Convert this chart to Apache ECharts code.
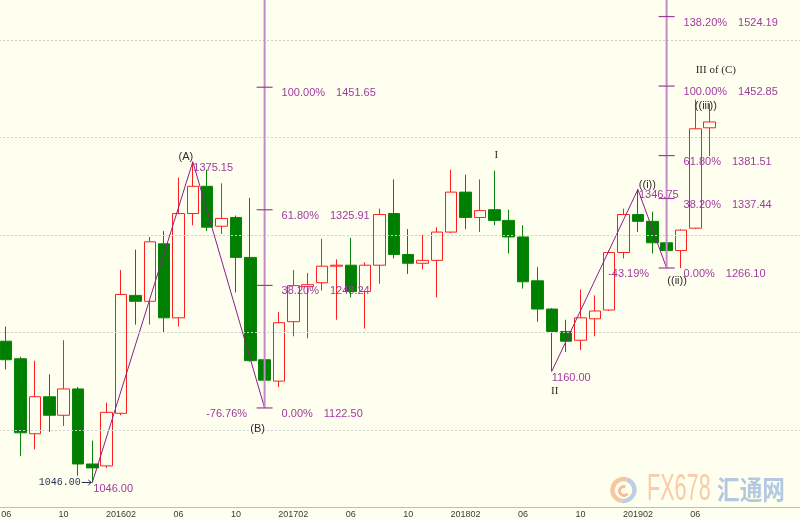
<!DOCTYPE html>
<html><head><meta charset="utf-8">
<script src="https://cdn.jsdelivr.net/npm/echarts@6/dist/echarts.min.js"></script>
<style>html,body{margin:0;padding:0;background:#FFFFEF}#c{width:800px;height:520px}</style>
</head><body><div id="c"></div>
<script>
// ---------- data ----------
const months = ['201506','201507','201508','201509','201510','201511','201512',
  '201601','201602','201603','201604','201605','201606','201607','201608','201609','201610','201611','201612',
  '201701','201702','201703','201704','201705','201706','201707','201708','201709','201710','201711','201712',
  '201801','201802','201803','201804','201805','201806','201807','201808','201809','201810','201811','201812',
  '201901','201902','201903','201904','201905','201906','201907','201908','201909','201910','201911','201912',
  '202001'];
const opens  = [1191,1173,1096,1134,1115,1142,1065,1063,1117,1238,1232,1291,1215,1322,1350,1309,1318,1277,1172,
  1150,1211,1247,1251,1268,1269,1242,1269,1322,1280,1271,1274,1303,1344,1318,1326,1315,1298,1253,1224,1201,1192,1214,1223,
  1282,1321,1314,1292,1284,1307,1410];
const closes = [1172,1097,1134,1115,1142,1065,1061,1118,1239,1232,1293,1215,1322,1350,1308,1317,1277,1171,1151,
  1210,1248,1249,1268,1269,1242,1269,1321,1280,1271,1274,1303,1344,1318,1325,1315,1298,1252,1224,1201,1191,1215,1222,1282,
  1321,1314,1292,1284,1305,1409,1416];
const lows   = [1162,1073,1080,1098,1104,1053,1046,1061,1115,1208,1208,1200,1206,1310,1304,1301,1241,1170,1122.5,
  1144,1196,1194,1243,1213,1236,1204,1250,1276,1260,1265,1236,1302,1306,1303,1310,1281,1245,1211,1160,1180,1182,1196,1222,
  1276,1303,1281,1266.1,1266,1306,1381];
const highs  = [1206,1175,1171,1157,1192,1144,1089,1128,1264,1285,1298,1304,1359,1375.15,1367,1353,1320,1338,1173,
  1221,1264,1261,1296,1275,1297,1272,1327,1357,1306,1300,1308,1367,1362,1357,1366,1326,1310,1267,1225,1213,1244,1238,1284,
  1327,1346.75,1324,1293,1306,1439,1435];
const gridLevels = [1100,1200,1300,1400,1500];

// zigzag waves
const zigAMonths = ['201512','201607','201612'];
const zigAPrices = [1046.00,1375.15,1122.50];
const zigBMonths = ['201808','201902','201904'];
const zigBPrices = [1160.00,1346.75,1266.10];

// fibonacci projections
const fibLeftPct    = ['100.00%','61.80%','38.20%','0.00%'];
const fibLeftPrice  = [1451.65,1325.91,1248.24,1122.50];
const fibRightPct   = ['138.20%','100.00%','61.80%','38.20%','0.00%'];
const fibRightPrice = [1524.19,1452.85,1381.51,1337.44,1266.10];

// wave labels
const waveText   = ['(A)','(B)','I','II','((i))','((ii))','((iii))','III of (C)'];
const waveMonth  = ['201607','201612','201804','201808','201902','201904','201906','201906'];
const wavePrice  = [1375.15,1122.50,1366,1160,1346.75,1266.10,1439,1439];

// pivot price labels
const pivotMonth = ['201512','201607','201808','201902'];
const pivotPrice = [1046.00,1375.15,1160.00,1346.75];

// low marker
const lowMarkMonth = '201512';
const lowMarkPrice = 1046.00;

// ---------- layout / style ----------
const PURPLE = '#A03AA0';
const DARK = '#2B2B2B';
const SANS = '11px "Liberation Sans", Arial, sans-serif';
const SERIF = '11px "Liberation Serif", serif';
const waveDx = [-7,-7,2,3,9.5,10.5,10.5,20.5];
const waveDy = [-4.5,21.5,-16,20,-4,12.5,6.5,-29.5];
const waveSerif = [false,false,true,true,false,false,false,true];
const pivotDx = [1,0.5,0,1];
const pivotDy = [6,6,6.5,5.5];

const mctx = document.createElement('canvas').getContext('2d');
mctx.font = SANS;

const idxOf = m => months.indexOf(m);
const candles = opens.map((o,i)=>[o, closes[i], lows[i], highs[i]]);

const fibIdx = [idxOf(zigAMonths[2]), idxOf(zigBMonths[2])];
const fibPcts = [fibLeftPct, fibRightPct];
const fibPrices = [fibLeftPrice, fibRightPrice];
const zigPrices = [zigAPrices, zigBPrices];

function fibRender(params, api) {
  const k = params.dataIndex;
  const idx = fibIdx[k];
  const base = api.coord([idx, api.value(1)]);
  const top = params.coordSys.y;
  const children = [{type:'line', shape:{x1:base[0], y1:base[1], x2:base[0], y2:top},
    style:{stroke:'#C48CC4', lineWidth:2}}];
  fibPrices[k].forEach((p,j)=>{
    const c = api.coord([idx, p]);
    children.push({type:'line', shape:{x1:c[0]-8, y1:c[1], x2:c[0]+8, y2:c[1]},
      style:{stroke:'#9C3C9C', lineWidth:1.2}});
    const pct = fibPcts[k][j];
    const w = mctx.measureText(pct).width;
    children.push({type:'text', x:c[0]+17, y:c[1]+6,
      style:{text:pct, fill:PURPLE, font:SANS, align:'left', verticalAlign:'middle'}});
    children.push({type:'text', x:c[0]+17+w+11, y:c[1]+6,
      style:{text:p.toFixed(2), fill:PURPLE, font:SANS, align:'left', verticalAlign:'middle'}});
  });
  const z = zigPrices[k];
  const retr = -((z[1]-z[2])/(z[1]-z[0]))*100;
  children.push({type:'text', x:base[0]-17.5, y:base[1]+6,
    style:{text:retr.toFixed(2)+'%', fill:PURPLE, font:SANS, align:'right', verticalAlign:'middle'}});
  return {type:'group', children};
}

function labelRender(params, api) {
  const children = [];
  waveText.forEach((t,i)=>{
    const c = api.coord([idxOf(waveMonth[i]), wavePrice[i]]);
    children.push({type:'text', x:c[0]+waveDx[i], y:c[1]+waveDy[i],
      style:{text:t, fill:DARK, font: waveSerif[i]?SERIF:SANS, align:'center', verticalAlign:'middle'}});
  });
  pivotPrice.forEach((p,i)=>{
    const c = api.coord([idxOf(pivotMonth[i]), p]);
    children.push({type:'text', x:c[0]+pivotDx[i], y:c[1]+pivotDy[i],
      style:{text:p.toFixed(2), fill:PURPLE, font:SANS, align:'left', verticalAlign:'middle'}});
  });
  const lm = api.coord([idxOf(lowMarkMonth), lowMarkPrice]);
  children.push({type:'text', x:lm[0]-11.5, y:lm[1], style:{text:lowMarkPrice.toFixed(2), fill:'#1E3050',
    font:'10px "Liberation Mono", monospace', align:'right', verticalAlign:'middle'}});
  children.push({type:'line', shape:{x1:lm[0]-10.5, y1:lm[1], x2:lm[0]-1, y2:lm[1]}, style:{stroke:'#1E3050', lineWidth:1}});
  children.push({type:'polyline', shape:{points:[[lm[0]-4,lm[1]-2.5],[lm[0]-1,lm[1]],[lm[0]-4,lm[1]+2.5]]}, style:{stroke:'#1E3050', lineWidth:1, fill:null}});
  return {type:'group', children};
}

const chart = echarts.init(document.getElementById('c'), null, {renderer:'canvas'});
chart.setOption({
  animation:false,
  backgroundColor:'#FFFFEF',
  grid:{left:-1, right:-3, top:0, bottom:13, containLabel:false, outerBoundsMode:'none'},
  xAxis:{type:'category', data:months, boundaryGap:true,
    axisLine:{show:true, lineStyle:{color:'#BDBDBD', width:1}},
    axisTick:{show:false}, splitLine:{show:false},
    axisLabel:{interval:3, margin:3, color:'#3A3A3A', fontSize:9, fontFamily:'"Liberation Sans", Arial, sans-serif',
      formatter:(v, i) => i >= opens.length ? '' : (v.endsWith('02') ? v : v.slice(4))}},
  yAxis:{type:'value', min:1020.85, max:1541.17, show:false, splitLine:{show:false}, scale:true},
  series:[
    {type:'line', data:[], silent:true, z:1,
      markLine:{silent:true, symbol:['none','none'], label:{show:false}, animation:false,
        lineStyle:{type:[2,2], color:'#CFCFCF', width:1},
        data: gridLevels.map(v=>({yAxis:v}))}},
    {type:'candlestick', data:candles, barWidth:12, z:3, silent:true,
      itemStyle:{color:'transparent', color0:'#008000', borderColor:'#FF1E1E', borderColor0:'#0A830A', borderWidth:1}},
    {type:'line', data: zigAMonths.map((m,i)=>[idxOf(m), zigAPrices[i]]), symbol:'none', silent:true, z:4,
      lineStyle:{color:'#8B1F8B', width:1}},
    {type:'line', data: zigBMonths.map((m,i)=>[idxOf(m), zigBPrices[i]]), symbol:'none', silent:true, z:4,
      lineStyle:{color:'#8B1F8B', width:1}},
    {type:'custom', silent:true, z:5, data:[[fibIdx[0], zigAPrices[2]],[fibIdx[1], zigBPrices[2]]], renderItem:fibRender},
    {type:'custom', silent:true, z:6, data:[[0, lowMarkPrice]], renderItem:labelRender}
  ],
  graphic:[
    {type:'group', z:100, silent:true, children:[
      {type:'arc', shape:{cx:623.5, cy:490, r:11, startAngle:Math.PI*0.55, endAngle:Math.PI*1.6},
        style:{stroke:'#F7C7A2', lineWidth:4.5, fill:null}},
      {type:'arc', shape:{cx:623.5, cy:490, r:11, startAngle:Math.PI*1.6, endAngle:Math.PI*2.55},
        style:{stroke:'#BCCFE3', lineWidth:4.5, fill:null}},
      {type:'arc', shape:{cx:624, cy:491, r:4.5, startAngle:Math.PI*0.2, endAngle:Math.PI*1.6},
        style:{stroke:'#F3BE98', lineWidth:3, fill:null}},
      {type:'text', x:647, y:490, scaleX:0.6, originX:0, originY:0,
        style:{text:'FX678', fill:'#F9CBA6', font:'36px "Liberation Sans", Arial, sans-serif', align:'left', verticalAlign:'middle'}},
      {type:'text', x:717, y:490, scaleX:0.84, originX:0, originY:0,
        style:{text:'汇通网', fill:'#B3C9E1', font:'bold 27px "Noto Sans CJK SC", sans-serif', align:'left', verticalAlign:'middle'}}
    ]}
  ]
});
</script>
</body></html>
